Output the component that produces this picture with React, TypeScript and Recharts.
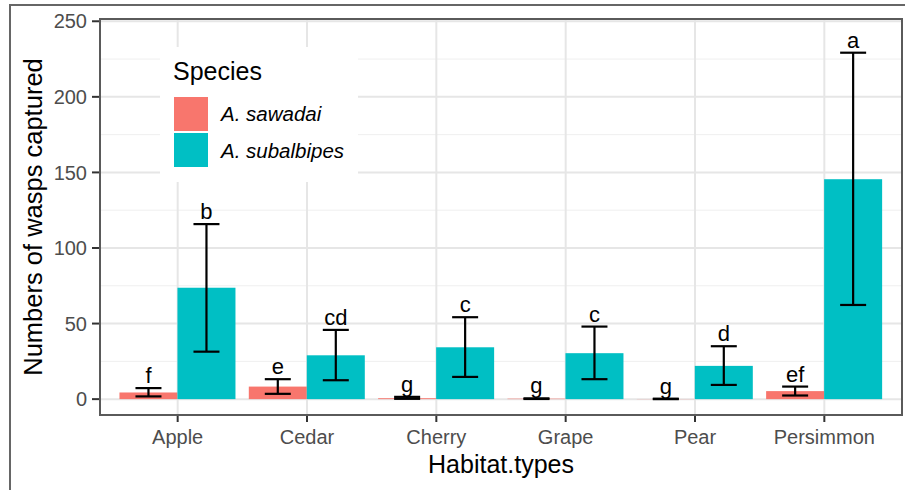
import React from 'react';
import {
  BarChart,
  Bar,
  XAxis,
  YAxis,
  CartesianGrid,
  ErrorBar,
  Legend,
} from 'recharts';

const habitats = ['Apple', 'Cedar', 'Cherry', 'Grape', 'Pear', 'Persimmon'];

const sawadaiMean = [4.4, 8.3, 0.6, 0.3, 0.1, 5.3];
const sawadaiLow = [1.8, 3.5, 0.2, 0.1, 0, 2.4];
const sawadaiHigh = [7.3, 13.2, 1.5, 0.5, 0.3, 8.3];
const sawadaiLetters = ['f', 'e', 'g', 'g', 'g', 'ef'];

const subalbipesMean = [73.7, 29.0, 34.3, 30.4, 22.0, 145.5];
const subalbipesLow = [31.4, 12.5, 14.7, 13.2, 9.4, 62.3];
const subalbipesHigh = [115.8, 45.8, 54.2, 48.0, 35.0, 229.2];
const subalbipesLetters = ['b', 'cd', 'c', 'c', 'd', 'a'];

const majorTicks = [0, 50, 100, 150, 200, 250];
const minorTicks = [25, 75, 125, 175, 225];

const Y_MIN = -10.5;
const Y_MAX = 251.5;

const RED = '#F8766D';
const TEAL = '#00BFC4';
const FONT = '"Liberation Sans", Arial, Helvetica, sans-serif';

const data = habitats.map((h, i) => ({
  habitat: h,
  sawadai: sawadaiMean[i],
  sawadaiErr: [sawadaiMean[i] - sawadaiLow[i], sawadaiHigh[i] - sawadaiMean[i]],
  subalbipes: subalbipesMean[i],
  subalbipesErr: [subalbipesMean[i] - subalbipesLow[i], subalbipesHigh[i] - subalbipesMean[i]],
}));

// bar + significance letter sitting just above the error bar top
const makeShape = (uppers: number[], letters: string[]) => (props: any) => {
  const { x, y, width, height, fill, index, background } = props;
  let letterY = null;
  if (background && background.height) {
    const ppu = background.height / (Y_MAX - Y_MIN);
    const zeroY = background.y + Y_MAX * ppu;
    letterY = zeroY - uppers[index] * ppu - 5;
  }
  return (
    <g>
      <rect x={x} y={y} width={width} height={Math.max(height, 0)} fill={fill} />
      {letterY !== null && (
        <text
          x={x + width / 2}
          y={letterY}
          textAnchor="middle"
          fontSize={22}
          fill="#000"
          fontFamily={FONT}
        >
          {letters[index]}
        </text>
      )}
    </g>
  );
};

const YTitle = (props: any) => {
  const vb = props.viewBox || { x: 0, y: 19, width: 100, height: 396 };
  const cx = 42;
  const cy = vb.y + vb.height / 2;
  return (
    <text
      x={cx}
      y={cy}
      transform={`rotate(-90, ${cx}, ${cy})`}
      textAnchor="middle"
      fontSize={25.5}
      fill="#000"
      fontFamily={FONT}
    >
      Numbers of wasps captured
    </text>
  );
};

const XTitle = (props: any) => {
  const vb = props.viewBox || { x: 100, y: 415, width: 802, height: 40 };
  return (
    <text
      x={vb.x + vb.width / 2}
      y={vb.y + 58}
      textAnchor="middle"
      fontSize={25}
      fill="#000"
      fontFamily={FONT}
    >
      Habitat.types
    </text>
  );
};

const SpeciesLegend = ({ payload }: any) => {
  const items = payload || [];
  return (
    <svg width={198} height={135} style={{ display: 'block' }}>
      <rect x={0} y={0} width={198} height={135} fill="#fff" />
      <text x={13} y={33} fontSize={25} fill="#000" fontFamily={FONT}>
        Species
      </text>
      {items.map((it: any, i: number) => (
        <g key={it.value}>
          <rect x={14} y={50 + i * 36} width={34} height={34} fill={it.color} />
          <text
            x={61}
            y={74 + i * 37}
            fontSize={20.5}
            fontStyle="italic"
            fill="#000"
            fontFamily={FONT}
          >
            {it.value}
          </text>
        </g>
      ))}
    </svg>
  );
};

export default function App() {
  return (
    <div
      style={{
        position: 'absolute',
        left: 0,
        top: 0,
        width: 905,
        height: 490,
        background: '#fff',
        overflow: 'hidden',
        fontFamily: FONT,
      }}
    >
      <div
        style={{
          position: 'absolute',
          left: 9,
          top: 4,
          width: 905,
          height: 500,
          borderLeft: '2px solid #666',
          borderTop: '2px solid #666',
        }}
      />
      <BarChart
        width={905}
        height={490}
        data={data}
        margin={{ top: 19, right: 3, bottom: 35, left: 0 }}
        barCategoryGap="5%"
        barGap={0}
      >
        <CartesianGrid
          vertical={false}
          horizontalValues={minorTicks}
          stroke="#efefef"
          strokeWidth={1}
        />
        <CartesianGrid horizontalValues={majorTicks} stroke="#e6e6e6" strokeWidth={2} />
        <XAxis
          dataKey="habitat"
          height={40}
          padding={{ left: 13, right: 13 }}
          axisLine={false}
          tickSize={7}
          tickMargin={8}
          tickLine={{ stroke: '#333', strokeWidth: 2 }}
          tick={{ fill: '#4d4d4d', fontSize: 20 }}
          interval={0}
          label={<XTitle />}
        />
        <YAxis
          type="number"
          width={100}
          domain={[Y_MIN, Y_MAX]}
          ticks={majorTicks}
          axisLine={false}
          tickSize={8}
          tickMargin={5}
          tickLine={{ stroke: '#333', strokeWidth: 2 }}
          tick={{ fill: '#4d4d4d', fontSize: 20 }}
          label={<YTitle />}
        />
        <Legend
          layout="vertical"
          align="center"
          verticalAlign="middle"
          wrapperStyle={{ left: 160, top: 47, width: 198, height: 135 }}
          content={(p: any) => <SpeciesLegend payload={p.payload} />}
        />
        <Bar
          dataKey="sawadai"
          name="A. sawadai"
          fill={RED}
          isAnimationActive={false}
          shape={makeShape(sawadaiHigh, sawadaiLetters)}
        >
          <ErrorBar
            dataKey="sawadaiErr"
            width={13}
            stroke="#000"
            strokeWidth={2.2}
            direction="y"
            isAnimationActive={false}
          />
        </Bar>
        <Bar
          dataKey="subalbipes"
          name="A. subalbipes"
          fill={TEAL}
          isAnimationActive={false}
          shape={makeShape(subalbipesHigh, subalbipesLetters)}
        >
          <ErrorBar
            dataKey="subalbipesErr"
            width={13}
            stroke="#000"
            strokeWidth={2.2}
            direction="y"
            isAnimationActive={false}
          />
        </Bar>
      </BarChart>
      <div
        style={{
          position: 'absolute',
          left: 99,
          top: 18,
          width: 804,
          height: 398,
          boxSizing: 'border-box',
          border: '2px solid #5a5a5a',
          pointerEvents: 'none',
        }}
      />
    </div>
  );
}
